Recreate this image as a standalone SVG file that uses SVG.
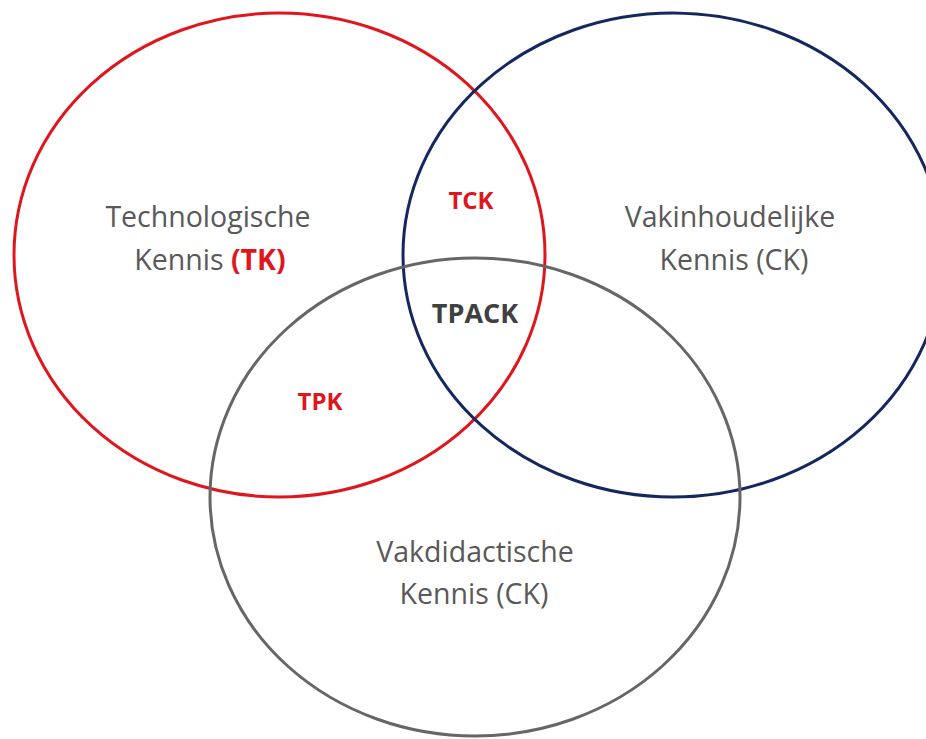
<svg xmlns="http://www.w3.org/2000/svg" width="926" height="739" viewBox="0 0 926 739">
<style>
.c{fill:none;stroke-width:3}
.lbl{font-family:"Open Sans","Liberation Sans",sans-serif;font-size:28.5px;fill:#595959;text-anchor:middle}
.red{fill:#E0161E;font-weight:bold}
.sm{font-family:"Open Sans","Liberation Sans",sans-serif;font-size:24px;font-weight:bold;text-anchor:middle}
</style>
<rect width="926" height="739" fill="#ffffff"/>
<g id="connectors"></g>
<g id="tk"><ellipse class="c" cx="279.5" cy="255" rx="265.5" ry="242" stroke="#E0161E"/></g>
<g id="ck"><ellipse class="c" cx="673" cy="255" rx="270" ry="242" stroke="#14285F"/></g>
<g id="pk"><ellipse class="c" cx="475" cy="497" rx="265" ry="239" stroke="#666666"/></g>
<g id="tk-label"><text class="lbl" x="208" y="227">Technologische</text><text class="lbl" x="210" y="270">Kennis <tspan class="red">(TK)</tspan></text></g>
<g id="ck-label"><text class="lbl" x="730" y="227">Vakinhoudelijke</text><text class="lbl" x="734" y="270">Kennis (CK)</text></g>
<g id="pk-label"><text class="lbl" x="475" y="562">Vakdidactische</text><text class="lbl" x="474" y="604">Kennis (CK)</text></g>
<g id="tck"><text class="sm" x="471" y="209" fill="#E0161E">TCK</text></g>
<g id="tpack"><text class="sm" x="475" y="323" fill="#404040" style="font-size:27px">TPACK</text></g>
<g id="tpk"><text class="sm" x="320" y="410" fill="#E0161E">TPK</text></g>
</svg>
